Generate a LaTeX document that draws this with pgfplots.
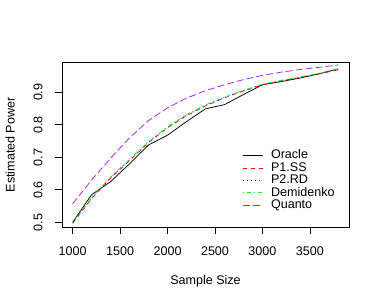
\documentclass[border=0pt]{standalone}
\usepackage{pgfplots}
\pgfplotsset{compat=1.18}
\usepackage{pgfplotstable}
\usetikzlibrary{calc}
\usepackage{fontspec}
\setmainfont{Liberation Sans}
\definecolor{rred}{HTML}{FF0000}
\definecolor{rblue}{HTML}{2A2AFF}
\definecolor{rgreen}{HTML}{00FF00}
\definecolor{rpurple}{HTML}{A020F0}

\pgfplotstableread{
n     oracle  p1ss   p2rd   demi   quanto
1000  0.500   0.497  0.498  0.499  0.557
1200  0.585   0.573  0.575  0.576  0.630
1400  0.625   0.636  0.638  0.639  0.697
1600  0.680   0.690  0.692  0.693  0.760
1800  0.738   0.745  0.747  0.748  0.813
2000  0.768   0.791  0.793  0.794  0.852
2200  0.810   0.828  0.830  0.831  0.882
2400  0.849   0.858  0.860  0.861  0.905
2600  0.862   0.883  0.884  0.885  0.923
2800  0.893   0.904  0.905  0.906  0.939
3000  0.923   0.923  0.924  0.925  0.952
3200  0.933   0.935  0.936  0.937  0.962
3400  0.944   0.946  0.947  0.948  0.970
3600  0.957   0.957  0.958  0.959  0.977
3800  0.972   0.969  0.970  0.971  0.984
}\datatab

\begin{document}
\begin{tikzpicture}
\def\rf{\fontsize{12.6}{14}\selectfont}
\begin{axis}[
  name=ax,
  scale only axis,
  width=287bp, height=164.3bp,
  xmin=888, xmax=3912, ymin=0.4855, ymax=0.991,
  xtick={1000,1500,2000,2500,3000,3500},
  ytick={0.5,0.6,0.7,0.8,0.9},
  scaled x ticks=false,
  tick align=outside,
  xtick pos=bottom, ytick pos=left,
  major tick length=7bp,
  tick style={black, line width=0.6bp},
  axis line style={black, line width=0.75bp},
  /pgf/number format/assume math mode=true,
  /pgf/number format/1000 sep={},
  xticklabel style={font=\rf},
  yticklabel style={font=\rf, rotate=90, anchor=south},
  xticklabel shift=9.5bp,
  yticklabel shift=9bp,
  xlabel={Sample Size}, ylabel={Estimated Power},
  label style={font=\rf},
  xlabel style={at={(axis description cs:0.5,-0.333)}, anchor=center},
  ylabel style={at={(axis description cs:-0.181,0.5)}, anchor=center},
  legend cell align=left,
  legend image code/.code={\draw[#1] (0bp,0bp) -- (20bp,0bp);},
  legend style={draw=none, fill=none, font=\rf, inner sep=0pt,
    at={(axis description cs:0.6275,0.474)}, anchor=north west,
    row sep=0pt, column sep=7bp,
    nodes={inner sep=1bp, text height=8.5bp, text depth=1.9bp}},
]
\addplot[black, line width=0.75bp] table[x=n, y=oracle] {\datatab};
\addlegendentry{Oracle}
\addplot[rred, line width=0.75bp, dash pattern=on 4bp off 4bp] table[x=n, y=p1ss] {\datatab};
\addlegendentry{P1.SS}
\addplot[rblue, line width=0.75bp, dash pattern=on 1bp off 3bp] table[x=n, y=p2rd] {\datatab};
\addlegendentry{P2.RD}
\addplot[rgreen, line width=0.75bp, dash pattern=on 1bp off 3bp on 4bp off 3bp] table[x=n, y=demi] {\datatab};
\addlegendentry{Demidenko}
\addplot[rpurple, line width=0.75bp, dash pattern=on 7bp off 3bp] table[x=n, y=quanto] {\datatab};
\addlegendentry{Quanto}
\end{axis}
\pgfresetboundingbox
\path[use as bounding box] ($(ax.south west)+(-62bp,-79bp)$) rectangle ++(382bp,306bp);
\end{tikzpicture}
\end{document}
